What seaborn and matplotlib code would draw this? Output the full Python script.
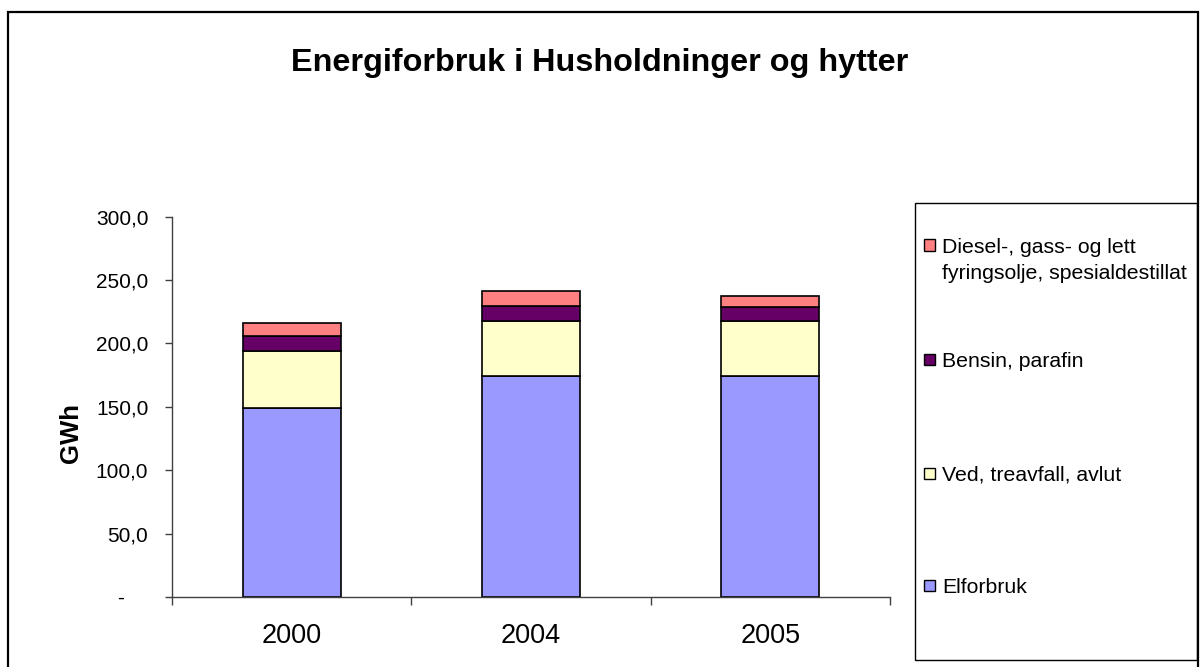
import matplotlib.pyplot as plt
from matplotlib.patches import Rectangle
from matplotlib.ticker import FuncFormatter, MultipleLocator, FixedLocator
import numpy as np
import seaborn as sns

# --- data (GWh) ---
aar = ['2000', '2004', '2005']
elforbruk = [149.0, 174.2, 174.4]
ved = [45.4, 43.6, 43.6]
bensin = [11.8, 12.0, 10.6]
diesel = [9.8, 11.9, 9.1]

serier = ['Elforbruk', 'Ved, treavfall, avlut', 'Bensin, parafin',
          'Diesel-, gass- og lett\nfyringsolje, spesialdestillat']
verdier = [elforbruk, ved, bensin, diesel]
farger = ['#9999FF', '#FFFFCC', '#660066', '#FF8080']

sns.set_style('white')
plt.rcParams['font.family'] = ['Liberation Sans', 'DejaVu Sans']
plt.rcParams['text.color'] = 'black'
plt.rcParams['axes.labelcolor'] = 'black'
plt.rcParams['xtick.color'] = 'black'
plt.rcParams['ytick.color'] = 'black'

fig = plt.figure(figsize=(12, 6.67), dpi=100)
ax = fig.add_axes([0.1433, 0.105, 0.5983, 0.5701])

# stablede søyler
bunn = np.zeros(len(aar))
for navn, v, farge in zip(serier, verdier, farger):
    sns.barplot(x=aar, y=v, bottom=bunn, color=farge, width=0.41,
                edgecolor='black', linewidth=1.2, saturation=1, ax=ax)
    bunn = bunn + np.array(v)

ax.set_ylim(0, 300)
ax.set_xlim(-0.5, 2.5)
ax.yaxis.set_major_locator(MultipleLocator(50))
ax.yaxis.set_major_formatter(FuncFormatter(
    lambda v, p: '-    ' if v == 0 else f'{v:.1f}'.replace('.', ',')))
ax.tick_params(axis='y', direction='out', length=5, width=1, color='#404040',
               labelcolor='black', labelsize=15, pad=12, left=True)
ax.xaxis.set_minor_locator(FixedLocator([-0.5, 0.5, 1.5, 2.5]))
ax.tick_params(axis='x', which='minor', direction='out', length=6, width=1,
               color='#404040', bottom=True)
ax.tick_params(axis='x', which='major', length=0, labelsize=19.5, pad=19,
               labelcolor='black')

for s in ['top', 'right']:
    ax.spines[s].set_visible(False)
for s in ['left', 'bottom']:
    ax.spines[s].set_color('#404040')
    ax.spines[s].set_linewidth(1)

ax.set_xlabel('')
ax.set_ylabel('GWh', fontsize=18.5, fontweight='bold')
ax.yaxis.set_label_coords(-0.1235, 0.432)

fig.text(0.5, 1 - 63 / 667, 'Energiforbruk i Husholdninger og hytter',
         ha='center', va='center', fontsize=23.3, fontweight='bold')

# ytre ramme
fig.patches.append(Rectangle((8 / 1200, -0.01), (1197.5 - 8) / 1200, 0.01 + 1 - 11.5 / 667,
                             transform=fig.transFigure, fill=False,
                             edgecolor='black', linewidth=1.6))

# tegnforklaring
fig.patches.append(Rectangle((915 / 1200, 1 - 659.5 / 667), (1197 - 915) / 1200,
                             (659.5 - 202.5) / 667, transform=fig.transFigure,
                             fill=False, edgecolor='black', linewidth=1))

leg_y = [585, 473, 359, 245]
for navn, farge, y in zip(serier, farger, leg_y):
    fig.patches.append(Rectangle((923.5 / 1200, 1 - (y + 6) / 667), 11.5 / 1200, 11.5 / 667,
                                 transform=fig.transFigure, facecolor=farge,
                                 edgecolor='black', linewidth=1))
    for i, linje in enumerate(navn.split('\n')):
        fig.text(942 / 1200, 1 - (y + 7.6 + i * 26.7) / 667, linje,
                 ha='left', va='baseline', fontsize=15.3)

fig.savefig('out.png', dpi=100)
